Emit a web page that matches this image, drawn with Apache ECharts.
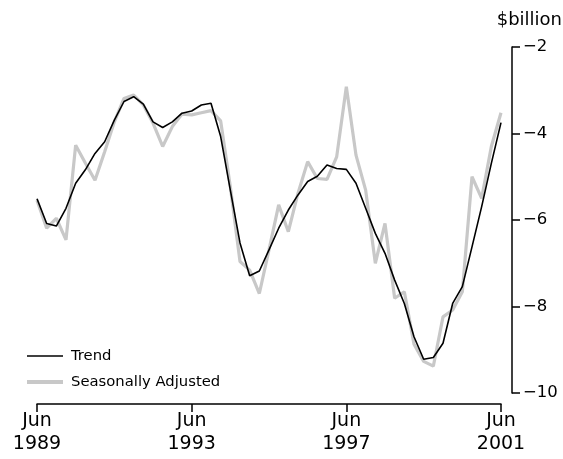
<!DOCTYPE html>
<html>
<head>
<meta charset="utf-8">
<script src="https://cdn.jsdelivr.net/npm/echarts@6/dist/echarts.min.js"></script>
<style>html,body{margin:0;padding:0;background:#fff}#c{width:563px;height:459px}</style>
</head>
<body>
<div id="c"></div>
<script>
// quarterly, Jun 1989 .. Jun 2001
const months = ['Jun', 'Sep', 'Dec', 'Mar'];
const categories = [];
(function () {
  let y = 1989, q = 0;
  while (categories.length < 49) {
    const yr = (q === 3) ? y + 1 : y;
    categories.push(months[q] + '\n' + yr);
    q++;
    if (q === 4) { q = 0; y++; }
  }
})();

const trend = [-5.51, -6.08, -6.14, -5.73, -5.15, -4.84, -4.46, -4.19, -3.69, -3.26,
  -3.15, -3.32, -3.73, -3.86, -3.73, -3.53, -3.48, -3.34, -3.30, -4.07,
  -5.31, -6.53, -7.29, -7.18, -6.69, -6.19, -5.77, -5.42, -5.11, -4.99,
  -4.73, -4.81, -4.83, -5.15, -5.73, -6.31, -6.77, -7.39, -7.93, -8.70,
  -9.22, -9.18, -8.85, -7.93, -7.54, -6.62, -5.69, -4.69, -3.75];

const seasAdj = [-5.54, -6.19, -5.96, -6.46, -4.27, -4.68, -5.08, -4.42, -3.73, -3.19,
  -3.11, -3.34, -3.76, -4.30, -3.84, -3.55, -3.57, -3.52, -3.47, -3.71,
  -5.23, -6.96, -7.16, -7.70, -6.69, -5.65, -6.27, -5.38, -4.65, -5.04,
  -5.06, -4.54, -2.92, -4.50, -5.31, -7.00, -6.08, -7.81, -7.66, -8.87,
  -9.27, -9.38, -8.24, -8.08, -7.66, -5.00, -5.50, -4.30, -3.52];

const FONT = '"DejaVu Sans", Verdana, sans-serif';
const legendText = {fontFamily: FONT, fontSize: 14.8, color: '#000', lineHeight: 18, padding: [0, 0, 0, 3]};
const chart = echarts.init(document.getElementById('c'), null, {renderer: 'canvas'});
chart.setOption({
  animation: false,
  backgroundColor: '#fff',
  grid: {left: 37, right: 62, top: 47, bottom: 66, containLabel: false},
  title: {
    text: '$billion', right: 1, top: 11, padding: 0,
    textStyle: {fontFamily: FONT, fontSize: 18, fontWeight: 'normal', color: '#000'}
  },
  legend: [
    {
      orient: 'vertical', left: 22, top: 342,
      data: [{name: 'Trend', icon: 'rect'}],
      itemWidth: 36, itemHeight: 1.5,
      textStyle: legendText
    },
    {
      orient: 'vertical', left: 22, top: 368,
      data: [{name: 'Seasonally Adjusted', icon: 'rect'}],
      itemWidth: 36, itemHeight: 4,
      textStyle: legendText
    }
  ],
  xAxis: {
    type: 'category', data: categories, boundaryGap: false, offset: 11,
    axisLine: {lineStyle: {color: '#000', width: 1.5}},
    axisTick: {interval: 15, length: 8, lineStyle: {color: '#000', width: 1.5}},
    axisLabel: {interval: 15, color: '#000', fontFamily: FONT, fontSize: 19, lineHeight: 23, margin: 6},
    splitLine: {show: false}
  },
  yAxis: {
    type: 'value', position: 'right', min: -10, max: -2, interval: 2, offset: 11,
    axisLine: {show: true, lineStyle: {color: '#000', width: 1.5}},
    axisTick: {show: true, length: 8, lineStyle: {color: '#000', width: 1.5}},
    axisLabel: {
      color: '#000', fontFamily: FONT, fontSize: 16.5, margin: 11,
      formatter: v => (v < 0 ? '\u2212' + Math.abs(v) : String(v))
    },
    splitLine: {show: false}
  },
  series: [
    {
      name: 'Seasonally Adjusted', type: 'line', data: seasAdj, symbol: 'none',
      lineStyle: {color: '#c8c8c8', width: 3.2}, itemStyle: {color: '#c8c8c8'}, z: 2
    },
    {
      name: 'Trend', type: 'line', data: trend, symbol: 'none',
      lineStyle: {color: '#000', width: 1.6}, itemStyle: {color: '#000'}, z: 3
    }
  ]
});
</script>
</body>
</html>
